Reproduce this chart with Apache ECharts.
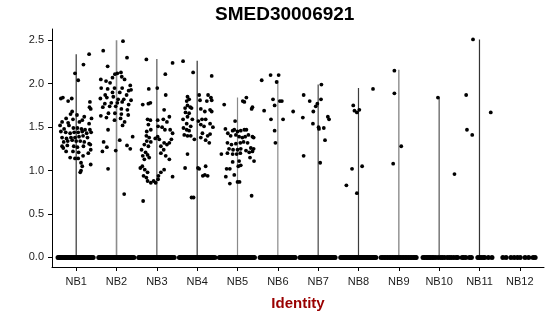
<!DOCTYPE html>
<html><head><meta charset="utf-8">
<script src="https://cdn.jsdelivr.net/npm/echarts@6/dist/echarts.min.js"></script>
<style>html,body{margin:0;padding:0;background:#fff}#c{width:550px;height:316px}</style>
</head><body><div id="c"></div>
<script>
const titleText = "SMED30006921";
const xTitle = "Identity";
const categories = ["NB1","NB2","NB3","NB4","NB5","NB6","NB7","NB8","NB9","NB10","NB11","NB12"];
const yTicks = [0, 0.5, 1.0, 1.5, 2.0, 2.5];
// max of each violin (line top)
const violinMax = [2.34, 2.50, 2.285, 2.265, 1.84, 2.04, 1.99, 1.95, 2.16, 1.835, 2.51, 0];

// non-zero expression points per group: [jitter offset, value]
const nb1 = [[0.32,2.34],[-0.03,2.12],[0.18,2.22],[0.05,2.04],[-0.38,1.83],[-0.33,1.84],[-0.11,1.83],[-0.2,1.8],[0.34,1.79],[0.33,1.73],[0.36,1.71],
[-0.1,1.68],[-0.14,1.65],[0.02,1.64],[0.2,1.62],[-0.25,1.6],[-0.08,1.59],[0.15,1.58],[0.38,1.6],[-0.35,1.56],[-0.2,1.55],[0.08,1.56],[0.32,1.54],
[-0.4,1.52],[-0.3,1.48],[-0.18,1.52],[-0.07,1.49],[0.03,1.49],[0.13,1.48],[0.22,1.47],[0.34,1.47],
[-0.38,1.45],[-0.26,1.44],[-0.15,1.43],[-0.05,1.44],[0.05,1.44],[0.15,1.45],[0.26,1.43],[0.37,1.44],
[-0.35,1.38],[-0.24,1.37],[-0.13,1.38],[-0.03,1.38],[0.07,1.39],[0.17,1.4],[0.28,1.38],
[-0.31,1.33],[-0.21,1.34],[-0.1,1.35],[0,1.34],[0.1,1.34],[0.2,1.33],[0.32,1.31],
[-0.35,1.28],[-0.22,1.29],[-0.06,1.28],[0.03,1.27],[0.18,1.28],[0.36,1.24],
[-0.25,1.22],[-0.08,1.22],[0.06,1.21],[0.3,1.2],
[-0.15,1.15],[-0.03,1.14],[0.05,1.14],[0.12,1.09],[0.1,0.98],[0.36,1.07],[0.15,1.05],[0.17,1.17],[0.35,1.3],[-0.32,1.26],[0.12,1.0]];
const nb2 = [[0.16,2.49],[-0.33,2.38],[0.26,2.3],[-0.22,2.2],[-0.39,2.05],[-0.26,2.03],[-0.16,2.01],[-0.1,2.07],[-0.04,2.11],[0.02,2.12],[0.11,2.13],[0.13,2.08],[0.2,2.05],[0.34,1.98],[0.36,1.93],
[-0.38,1.95],[-0.22,1.94],[-0.05,1.95],[0.14,1.95],[0.3,1.92],
[-0.28,1.87],[-0.1,1.9],[0.08,1.9],[0.25,1.87],
[-0.4,1.83],[-0.24,1.84],[-0.08,1.85],[0.04,1.82],[0.18,1.82],[0.36,1.81],
[-0.29,1.77],[-0.13,1.78],[0.02,1.78],[0.14,1.79],[0.3,1.76],
[-0.34,1.73],[-0.17,1.74],[-0.02,1.74],[0.12,1.71],[0.27,1.7],
[-0.2,1.66],[-0.04,1.66],[0.12,1.65],[0.29,1.64],
[-0.39,1.63],[-0.25,1.61],[-0.05,1.58],[0.1,1.6],[0.2,1.56],[0.15,1.52],[-0.21,1.47],
[-0.32,1.33],[-0.24,1.27],[-0.35,1.22],[-0.21,1.02],[-0.02,1.23],[0.08,1.35],[0.26,1.29],[0.34,1.25],[0.4,1.39],[0.19,0.73]];
const nb3 = [[-0.26,2.28],[0.39,2.24],[0.21,2.11],[-0.2,1.94],[0.01,1.95],[0.22,1.87],[-0.35,1.76],[-0.21,1.77],[-0.16,1.78],[0.18,1.7],
[-0.23,1.59],[-0.16,1.58],[0.02,1.58],[0.16,1.59],[0.25,1.56],[0.31,1.62],[-0.21,1.53],[0.03,1.51],[0.13,1.5],
[-0.25,1.45],[-0.15,1.47],[0.2,1.47],[0.33,1.47],[0.39,1.43],
[-0.26,1.4],[-0.19,1.38],[-0.25,1.34],[-0.15,1.33],[-0.31,1.3],[-0.21,1.28],[0.02,1.39],[-0.04,1.37],[0.06,1.36],
[0.18,1.32],[0.25,1.3],[0.31,1.32],[0.36,1.36],[0.1,1.28],[0.17,1.24],
[-0.38,1.24],[-0.28,1.21],[-0.35,1.17],[-0.23,1.18],[-0.31,1.13],[-0.19,1.15],
[-0.41,1.03],[-0.3,1.01],[-0.23,0.98],[-0.33,0.94],[-0.26,0.92],[-0.36,1.05],
[-0.08,0.88],[-0.03,0.86],[-0.15,0.86],[-0.23,0.88],[0.04,0.94],[0.1,0.98],[0.18,1.01],[0.03,0.9],
[0.39,0.93],[-0.34,0.65],[0.1,1.2],[0.22,1.17],[0.31,1.13]];
const nb4 = [[-0.35,2.26],[-0.1,2.13],[0.36,2.09],[-0.24,1.85],[-0.2,1.82],[-0.26,1.8],
[-0.3,1.72],[-0.24,1.75],[-0.17,1.73],[-0.14,1.72],[-0.29,1.67],[-0.2,1.66],
[-0.35,1.59],[-0.24,1.62],[-0.12,1.59],[-0.26,1.54],[-0.16,1.51],[-0.34,1.49],[-0.26,1.47],[-0.2,1.46],[-0.32,1.41],[-0.24,1.4],[-0.16,1.4],[-0.07,1.36],
[-0.24,1.19],[-0.3,1.03],[-0.14,0.69],[-0.09,0.69],
[0.05,1.87],[0.27,1.87],[0.34,1.84],[0.36,1.81],[0.07,1.81],[0.24,1.8],
[0.09,1.71],[0.19,1.68],[0.32,1.7],[0.36,1.68],[0.12,1.59],[0.21,1.59],[0.32,1.54],[0.39,1.5],[0.03,1.57],[0.17,1.51],[0.09,1.53],
[0.13,1.43],[0.26,1.4],[0.32,1.42],[0.09,1.38],[0.21,1.35],[0.3,1.32],
[0.02,1.03],[0.05,1.02],[0.21,1.05],[0.26,0.94],[0.19,0.95],[0.14,0.94]];
const nb5 = [[0.22,1.84],[0.13,1.8],[0.17,1.79],[0.37,1.73],[0.35,1.71],[-0.33,1.76],[-0.06,1.57],[-0.3,1.48],[-0.24,1.43],
[-0.12,1.46],[-0.08,1.47],[0.0,1.45],[0.08,1.46],[0.17,1.47],[0.22,1.47],
[-0.17,1.4],[-0.04,1.41],[0.04,1.39],[0.12,1.38],[0.19,1.39],[0.27,1.41],[0.37,1.39],[0.4,1.38],
[-0.25,1.32],[-0.15,1.3],[-0.04,1.31],[0.07,1.32],[0.15,1.33],[0.25,1.32],
[-0.21,1.25],[-0.11,1.24],[0.0,1.24],[0.08,1.25],[0.21,1.23],[0.33,1.26],[0.4,1.25],
[-0.4,1.19],[-0.25,1.2],[-0.12,1.19],[-0.02,1.19],[0.07,1.2],[0.29,1.21],[0.37,1.22],[0.41,1.11],
[-0.12,1.1],[0.04,1.11],[0.31,1.15],[-0.27,1.02],[-0.19,1.02],[0.02,1.05],[0.08,1.06],
[-0.29,0.93],[-0.08,0.95],[-0.19,0.85],[0.0,0.87],[0.05,0.87],[0.35,0.71]];
const nb6 = [[-0.4,2.04],[-0.18,2.1],[0.02,2.1],[-0.03,2.02],[-0.12,1.82],[0.05,1.8],[0.1,1.8],[-0.08,1.75],[-0.34,1.69],[-0.17,1.59],[0.13,1.59],[-0.08,1.46],[0.38,1.68],[-0.06,1.32]];
const nb7 = [[0.08,1.99],[-0.36,1.87],[-0.21,1.8],[0.07,1.82],[-0.06,1.74],[-0.02,1.77],[-0.12,1.68],[-0.38,1.61],[0.24,1.62],[0.27,1.59],[-0.13,1.54],[0.01,1.5],[0.02,1.48],[0.14,1.49],[0.17,1.35],[-0.36,1.17],[0.05,1.09]];
const nb8 = [[-0.13,1.75],[-0.1,1.69],[-0.04,1.67],[0.02,1.7],[0.36,1.94],[-0.3,0.83],[-0.16,1.02],[-0.04,0.74],[0.09,1.05]];
const nb9 = [[-0.11,2.15],[-0.11,1.89],[0.06,1.28],[-0.14,1.08]];
const nb10 = [[-0.03,1.84],[0.38,0.96]];
const nb11 = [[-0.16,2.51],[-0.33,1.87],[0.28,1.67],[-0.31,1.47],[-0.18,1.41]];
const nb12 = [];
const nonZero = [nb1,nb2,nb3,nb4,nb5,nb6,nb7,nb8,nb9,nb10,nb11,nb12];

// jitter offsets of the zero-expression cells per group
const z1 = [-0.45,-0.42,-0.39,-0.36,-0.33,-0.3,-0.27,-0.24,-0.21,-0.18,-0.15,-0.12,-0.09,-0.06,-0.03,0,0.03,0.06,0.09,0.12,0.15,0.18,0.21,0.24,0.27,0.3,0.33,0.36,0.39,0.42];
const z2 = [-0.44,-0.41,-0.38,-0.35,-0.32,-0.29,-0.26,-0.23,-0.2,-0.17,-0.14,-0.11,-0.08,-0.05,-0.02,0.01,0.04,0.07,0.1,0.13,0.16,0.19,0.22,0.25,0.28,0.31,0.34,0.37,0.4,0.43];
const z3 = [-0.45,-0.42,-0.39,-0.36,-0.33,-0.3,-0.27,-0.24,-0.21,-0.18,-0.15,-0.12,-0.09,-0.06,-0.03,0,0.03,0.06,0.09,0.12,0.15,0.18,0.21,0.24,0.27,0.3,0.33,0.36,0.39,0.43];
const z4 = [-0.44,-0.41,-0.38,-0.35,-0.32,-0.29,-0.26,-0.23,-0.2,-0.17,-0.14,-0.11,-0.08,-0.05,-0.02,0.01,0.04,0.07,0.1,0.13,0.16,0.19,0.22,0.25,0.28,0.31,0.34,0.37,0.4,0.44];
const z5 = [-0.45,-0.42,-0.39,-0.36,-0.33,-0.3,-0.27,-0.24,-0.21,-0.18,-0.15,-0.12,-0.09,-0.06,-0.03,0,0.03,0.06,0.09,0.12,0.15,0.18,0.21,0.24,0.27,0.3,0.33,0.36,0.39,0.42];
const z6 = [-0.44,-0.41,-0.38,-0.35,-0.32,-0.29,-0.26,-0.23,-0.2,-0.17,-0.14,-0.11,-0.08,-0.05,-0.02,0.01,0.04,0.07,0.1,0.13,0.16,0.19,0.22,0.25,0.28,0.31,0.34,0.37,0.4,0.43];
const z7 = [-0.45,-0.42,-0.39,-0.36,-0.33,-0.3,-0.27,-0.24,-0.21,-0.18,-0.15,-0.12,-0.09,-0.06,-0.03,0,0.03,0.06,0.09,0.12,0.15,0.18,0.21,0.24,0.27,0.3,0.33,0.36,0.39,0.42];
const z8 = [-0.44,-0.41,-0.38,-0.35,-0.32,-0.29,-0.26,-0.23,-0.2,-0.17,-0.14,-0.11,-0.08,-0.05,-0.02,0.01,0.04,0.07,0.1,0.13,0.16,0.19,0.22,0.25,0.28,0.31,0.34,0.37,0.4,0.43];
const z9 = [-0.44,-0.4,-0.36,-0.32,-0.28,-0.24,-0.2,-0.16,-0.12,-0.08,-0.04,0,0.04,0.08,0.12,0.16,0.2,0.24,0.28,0.32,0.36,0.4,0.43];
const z10 = [-0.4,-0.36,-0.32,-0.28,-0.25,-0.21,-0.17,-0.13,-0.08,-0.02,0.04,0.08,0.13,0.2,0.25,0.3,0.36,0.42,0.46];
const z11 = [-0.43,-0.39,-0.34,-0.25,-0.2,-0.04,0.0,0.04,0.09,0.13,0.22,0.31];
const z12 = [-0.42,-0.34,-0.22,-0.14,-0.06,0.01,0.13,0.22,0.33,0.38];
const zeroJitter = [z1,z2,z3,z4,z5,z6,z7,z8,z9,z10,z11,z12];

// styles (not data)
const lineColors = ["#333","#8c8c8c","#555","#333","#8a8a8a","#8a8a8a","#444","#3c3c3c","#9a9a9a","#555","#333","#333"];

const chart = echarts.init(document.getElementById('c'), null, {renderer:'canvas'});
const series = [];
categories.forEach((c, i) => {
  const x = i + 1;
  if (violinMax[i] > 0) {
    series.push({type:'line', data:[[x,0],[x,violinMax[i]]], symbol:'none', silent:true, z:1,
      lineStyle:{color:lineColors[i], width:(i===1||i===8)?1.6:1.2}});
  }
});
const pts = [];
nonZero.forEach((g, i) => g.forEach(p => pts.push([i + 1 + p[0], p[1]])));
const zeros = [];
zeroJitter.forEach((g, i) => g.forEach(o => zeros.push([i + 1 + o, 0])));
series.push({type:'scatter', data:pts, symbol:'circle', symbolSize:3.8, z:3,
  itemStyle:{color:'#000', opacity:1}, silent:true});
series.push({type:'scatter', data:zeros, symbol:'circle', symbolSize:5, z:3,
  itemStyle:{color:'#000', opacity:1}, silent:true});

chart.setOption({
  animation:false,
  backgroundColor:'#fff',
  graphic:[{type:'text', left:215, top:5, style:{text:titleText, font:'bold 19px "Liberation Sans", Arial, sans-serif', fill:'#000'}}],
  grid:{left:52, right:6, top:29, bottom:48, containLabel:false},
  xAxis:{type:'value', min:0.4, max:12.6, name:xTitle, nameLocation:'middle', nameGap:29,
    nameTextStyle:{fontFamily:'"Liberation Sans", Arial, sans-serif', fontWeight:'bold', fontSize:15, color:'#990000'},
    axisLine:{show:true, onZero:false, lineStyle:{color:'#000', width:1}},
    axisTick:{show:true, length:4, lineStyle:{color:'#000'}, customValues:categories.map((c,i)=>i+1)},
    axisLabel:{customValues:categories.map((c,i)=>i+1), formatter:v=>categories[Math.round(v)-1], margin:9,
      fontFamily:'"Liberation Sans", Arial, sans-serif', fontSize:11, color:'#1a1a1a'},
    splitLine:{show:false}},
  yAxis:{type:'value', min:-0.11, max:2.63,
    axisLine:{show:true, onZero:false, lineStyle:{color:'#000', width:1}},
    axisTick:{show:true, length:4, lineStyle:{color:'#000'}, customValues:yTicks},
    axisLabel:{customValues:yTicks, formatter:v=>v.toFixed(1), margin:8,
      fontFamily:'"Liberation Sans", Arial, sans-serif', fontSize:11, color:'#1a1a1a'},
    splitLine:{show:false}},
  series:series
});
</script></body></html>
